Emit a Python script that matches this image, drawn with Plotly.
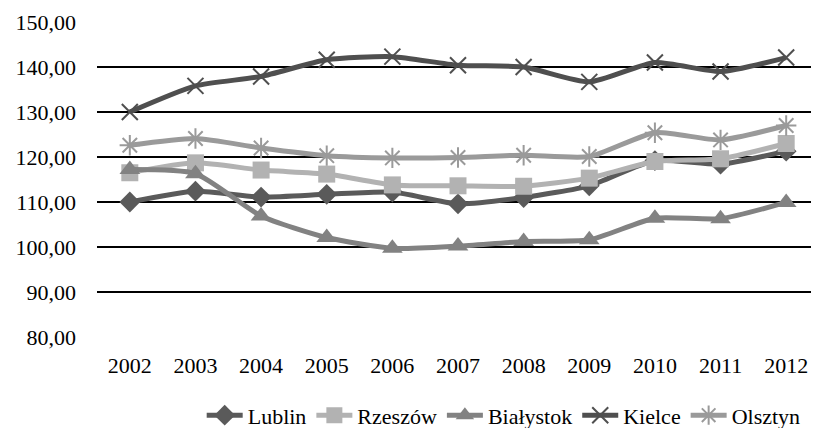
import plotly.graph_objects as go

years = ["2002", "2003", "2004", "2005", "2006", "2007", "2008", "2009", "2010", "2011", "2012"]
lublin = [110.0, 112.4, 111.1, 111.7, 112.2, 109.6, 111.0, 113.6, 119.2, 118.4, 121.3]
rzeszow = [116.5, 118.7, 117.1, 116.2, 113.8, 113.6, 113.5, 115.3, 119.0, 119.6, 123.0]
bialystok = [117.2, 116.3, 106.9, 102.1, 99.7, 100.2, 101.2, 101.6, 106.4, 106.3, 109.9]
kielce = [130.0, 135.8, 137.9, 141.6, 142.3, 140.4, 140.0, 136.7, 141.0, 139.0, 142.1]
olsztyn = [122.6, 124.1, 122.0, 120.3, 119.8, 119.9, 120.4, 120.1, 125.4, 123.8, 127.0]

series = [
    ("Lublin", lublin, "#5a5a5a", "diamond", 16),
    ("Rzeszów", rzeszow, "#b2b2b2", "square", 17),
    ("Białystok", bialystok, "#828282", "triangle-up", 18),
    ("Kielce", kielce, "#4f4f4f", "x-thin", 16),
    ("Olsztyn", olsztyn, "#9a9a9a", "asterisk", 17),
]

FONT = '"Liberation Serif", "Times New Roman", serif'

fig = go.Figure()
for name, vals, col, sym, sz in series:
    marker = dict(symbol=sym, size=sz, color=col)
    if sym in ("x-thin", "asterisk"):
        marker["line"] = dict(color=col, width=2)
    fig.add_trace(go.Scatter(
        x=years, y=vals, name=name, mode="lines+markers",
        line=dict(color=col, width=5, shape="spline", smoothing=0.6),
        marker=marker,
    ))

# page body has an 8px default margin, so the figure is sized to fit
fig.update_layout(
    width=811, height=420,
    margin=dict(l=89, r=0, t=14, b=91, autoexpand=False),
    paper_bgcolor="white", plot_bgcolor="white",
    font=dict(family=FONT, size=22, color="#000000"),
    separators=", ",
    showlegend=True,
    legend=dict(orientation="h", x=0.145, xanchor="left", yref="container",
                y=0.03, yanchor="middle",
                font=dict(family=FONT, size=22), itemwidth=36, tracegroupgap=0),
)
fig.update_xaxes(type="category", showgrid=False, showline=False, ticks="",
                 tickfont=dict(family=FONT, size=22), range=[-0.5, 10.5],
                 automargin=False, ticklabelstandoff=13)
fig.update_yaxes(range=[80, 150], dtick=10, tickformat=".2f", showgrid=True,
                 gridcolor="#000000", gridwidth=2, zeroline=False, showline=False,
                 tickfont=dict(family=FONT, size=22), ticks="", ticklabelstandoff=20,
                 automargin=False)

fig.write_html("out.html")
